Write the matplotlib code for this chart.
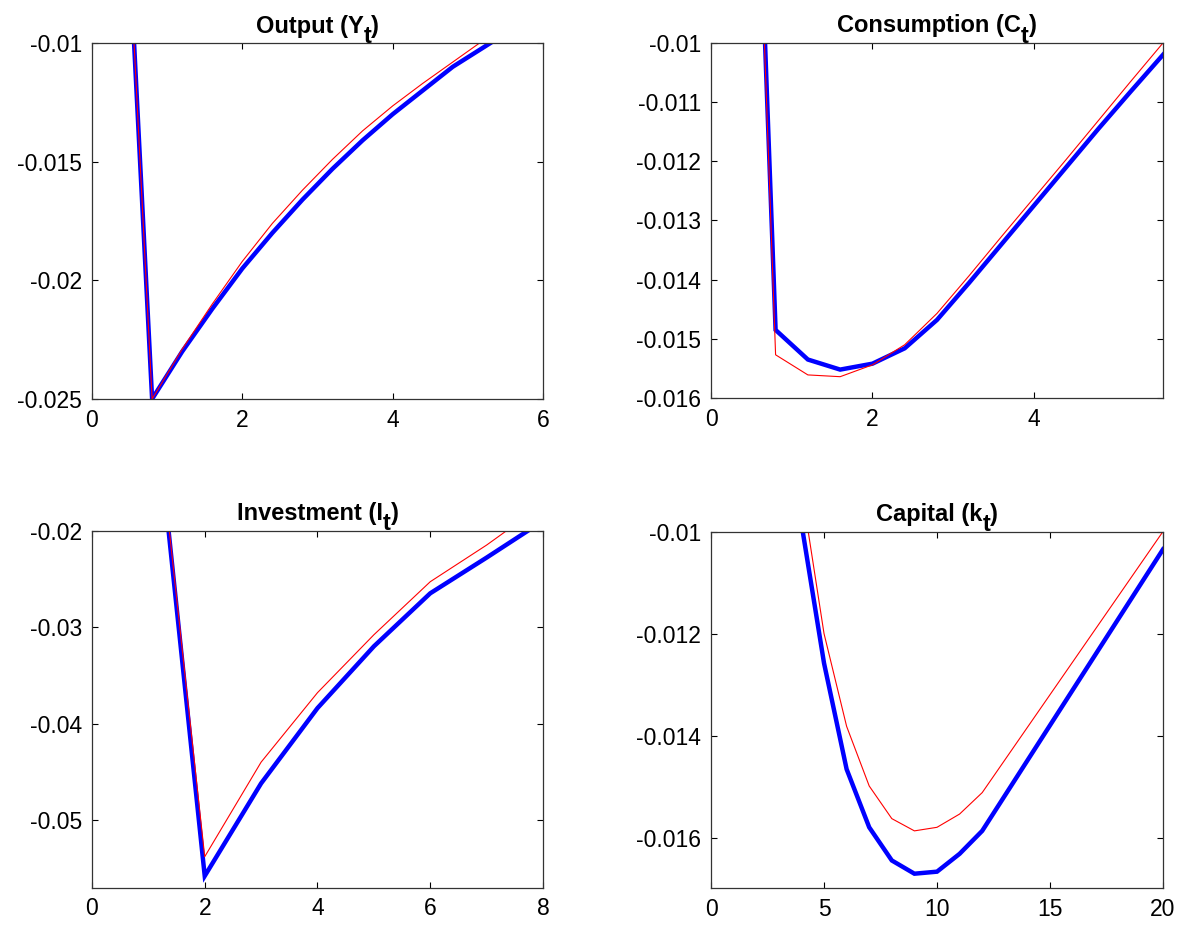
import matplotlib
matplotlib.use("Agg")
import matplotlib.pyplot as plt
from matplotlib.ticker import FormatStrFormatter

plt.rcParams.update({"font.family": "Liberation Sans", "font.size": 16.5,
                     "axes.unicode_minus": False})

# impulse responses: thick blue = model A, thin red = model B
t_q = [0.4, 0.8, 1.2, 1.6, 2.0, 2.4, 2.8, 3.2, 3.6, 4.0, 4.4, 4.8, 5.2, 5.6, 6.0]
out_blue = [0.0, -0.0250, -0.0230, -0.0212, -0.0195, -0.0180, -0.0166, -0.0153,
            -0.0141, -0.0130, -0.0120, -0.0110, -0.0102, -0.0094, -0.0086]
out_red = [0.0, -0.0250, -0.0229, -0.0210, -0.0192, -0.0176, -0.0162, -0.0149,
           -0.0137, -0.01265, -0.0117, -0.0108, -0.0099, -0.0091, -0.0084]
cons_blue = [0.0, -0.01485, -0.01535, -0.01552, -0.01542, -0.01516, -0.01468, -0.01405,
             -0.01340, -0.01275, -0.01210, -0.01145, -0.01082, -0.01020, -0.00958]
cons_red = [0.0, -0.01527, -0.01561, -0.01564, -0.01544, -0.01510, -0.01457, -0.01393,
            -0.01327, -0.01262, -0.01197, -0.01131, -0.01065, -0.01000, -0.00936]

t_inv = [1, 2, 3, 4, 5, 6, 7, 8]
inv_blue = [0.0, -0.0558, -0.0462, -0.0384, -0.0320, -0.0265, -0.0228, -0.0190]
inv_red = [0.0, -0.0538, -0.0440, -0.0368, -0.0308, -0.0253, -0.0215, -0.0173]

t_k = list(range(1, 21))
cap_blue = [0.0, -0.0036, -0.0068, -0.00984, -0.01258, -0.01466, -0.01580, -0.01645,
            -0.01671, -0.01667, -0.01632, -0.01587, -0.01518, -0.01449, -0.01380,
            -0.01311, -0.01242, -0.01173, -0.01104, -0.01035]
cap_red = [0.0, -0.0032, -0.0062, -0.00914, -0.01200, -0.01382, -0.01499, -0.01563,
           -0.01587, -0.01580, -0.01554, -0.01512, -0.01448, -0.01384, -0.01320,
           -0.01256, -0.01192, -0.01128, -0.01064, -0.01000]

panels = [
    ("Output (Y", "t", t_q, out_blue, out_red, (0, 6), [0, 2, 4, 6],
     (-0.025, -0.01), [-0.025, -0.02, -0.015, -0.01]),
    ("Consumption (C", "t", t_q, cons_blue, cons_red, (0, 5.6), [0, 2, 4],
     (-0.016, -0.01), [-0.016, -0.015, -0.014, -0.013, -0.012, -0.011, -0.01]),
    ("Investment (I", "t", t_inv, inv_blue, inv_red, (0, 8), [0, 2, 4, 6, 8],
     (-0.057, -0.02), [-0.05, -0.04, -0.03, -0.02]),
    ("Capital (k", "t", t_k, cap_blue, cap_red, (0, 20), [0, 5, 10, 15, 20],
     (-0.017, -0.01), [-0.016, -0.014, -0.012, -0.01]),
]

fig = plt.figure(figsize=(11.96, 9.26), dpi=100)
rects = [[0.0769, 0.5691, 0.3771, 0.3844], [0.5945, 0.5702, 0.3779, 0.3834],
         [0.0769, 0.0415, 0.3771, 0.3855], [0.5945, 0.0405, 0.3779, 0.3855]]

titles = []
for rect, (head, sub, x, yb, yr, xl, xt, yl, yt) in zip(rects, panels):
    ax = fig.add_axes(rect)
    ax.plot(x, yb, color="#0000ff", lw=3.2, solid_joinstyle="miter")
    ax.plot(x, yr, color="#ff0000", lw=0.8)
    ax.set_xlim(*xl); ax.set_ylim(*yl)
    ax.set_xticks(xt); ax.set_yticks(yt)
    ax.xaxis.set_major_formatter(FormatStrFormatter("%g"))
    ax.yaxis.set_major_formatter(FormatStrFormatter("%g"))
    ax.tick_params(direction="in", top=True, right=True, length=4, width=0.8, pad=7)
    for s in ax.spines.values():
        s.set_linewidth(0.9); s.set_color("#333333")
    # MATLAB-style title: full-size lowered subscript
    kw = dict(fontsize=17, fontweight="bold", ha="left", va="bottom")
    t1 = ax.annotate(head, xy=(0.5, 1), xycoords="axes fraction",
                     xytext=(0, 4), textcoords="offset points", **kw)
    t2 = ax.annotate(sub, xy=(1, 0), xycoords=t1, xytext=(0, -7.5),
                     textcoords="offset points", **kw)
    t3 = ax.annotate(")", xy=(1, 0), xycoords=(t2, t1), **kw)
    titles.append((ax, t1, t3))

# centre each composite title over its axes
fig.canvas.draw()
r = fig.canvas.get_renderer()
for ax, t1, t3 in titles:
    a = ax.get_window_extent(r)
    left = t1.get_window_extent(r).x0
    right = t3.get_window_extent(r).x1
    shift = (a.x0 + a.x1) / 2 - (left + right) / 2
    t1.xyann = (shift * 72 / fig.dpi, 4)

plt.savefig("out.png", dpi=100)
